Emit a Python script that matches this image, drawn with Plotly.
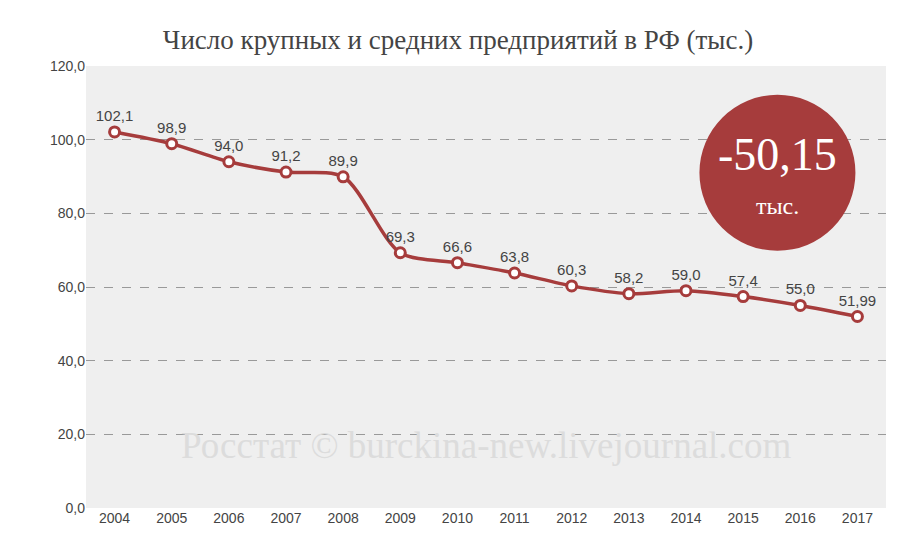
import plotly.graph_objects as go

years = ["2004", "2005", "2006", "2007", "2008", "2009", "2010", "2011", "2012", "2013", "2014", "2015", "2016", "2017"]
values = [102.1, 98.9, 94.0, 91.2, 89.9, 69.3, 66.6, 63.8, 60.3, 58.2, 59.0, 57.4, 55.0, 51.99]
labels = ["102,1", "98,9", "94,0", "91,2", "89,9", "69,3", "66,6", "63,8", "60,3", "58,2", "59,0", "57,4", "55,0", "51,99"]
tick_vals = [0, 20, 40, 60, 80, 100, 120]
tick_text = ["0,0", "20,0", "40,0", "60,0", "80,0", "100,0", "120,0"]

red = "#a63c3c"

fig = go.Figure()
fig.add_trace(go.Scatter(
    x=years, y=values, mode="lines+markers+text",
    line=dict(color=red, width=3.5, shape="spline", smoothing=0.8),
    marker=dict(size=10, color="white", line=dict(color=red, width=3)),
    text=labels, textposition="top center",
    textfont=dict(family="Liberation Sans", size=15, color="#444"),
    cliponaxis=False,
))

# badge circle, pixel-sized so it stays round
fig.add_shape(type="circle", xref="x", yref="y",
              xsizemode="pixel", ysizemode="pixel", xanchor=11.6, yanchor=91,
              x0=-78, x1=78, y0=-78, y1=78,
              fillcolor=red, line=dict(width=0), layer="above")
fig.add_annotation(xref="x", yref="y", x=11.6, y=96, text="-50,15", showarrow=False,
                   font=dict(family="Liberation Serif", size=46, color="white"))
fig.add_annotation(xref="x", yref="y", x=11.6, y=82, text="тыс.", showarrow=False,
                   font=dict(family="Liberation Serif", size=24, color="white"))
fig.add_annotation(xref="paper", yref="paper", x=0.5, y=0.09, text="Росстат © burckina-new.livejournal.com",
                   showarrow=False, font=dict(family="Liberation Serif", size=37, color="#dcdcdc"))

fig.update_layout(
    width=900, height=550,
    margin=dict(l=78, r=22, t=58, b=50, autoexpand=False),
    paper_bgcolor="white", plot_bgcolor="#efefef",
    showlegend=False,
    title=dict(text="Число крупных и средних предприятий в РФ (тыс.)", x=0.5, y=0.96,
               xanchor="center", font=dict(family="Liberation Serif", size=27, color="#444")),
)
fig.update_xaxes(showgrid=False, tickfont=dict(family="Liberation Sans", size=14, color="#444"),
                 ticks="", range=[-0.5, 13.5])
fig.update_yaxes(range=[0, 120], tickvals=tick_vals, ticktext=tick_text,
                 gridcolor="#999", griddash="dash", gridwidth=1, zeroline=False,
                 tickfont=dict(family="Liberation Sans", size=14, color="#444"))
fig.write_html("out.html")
